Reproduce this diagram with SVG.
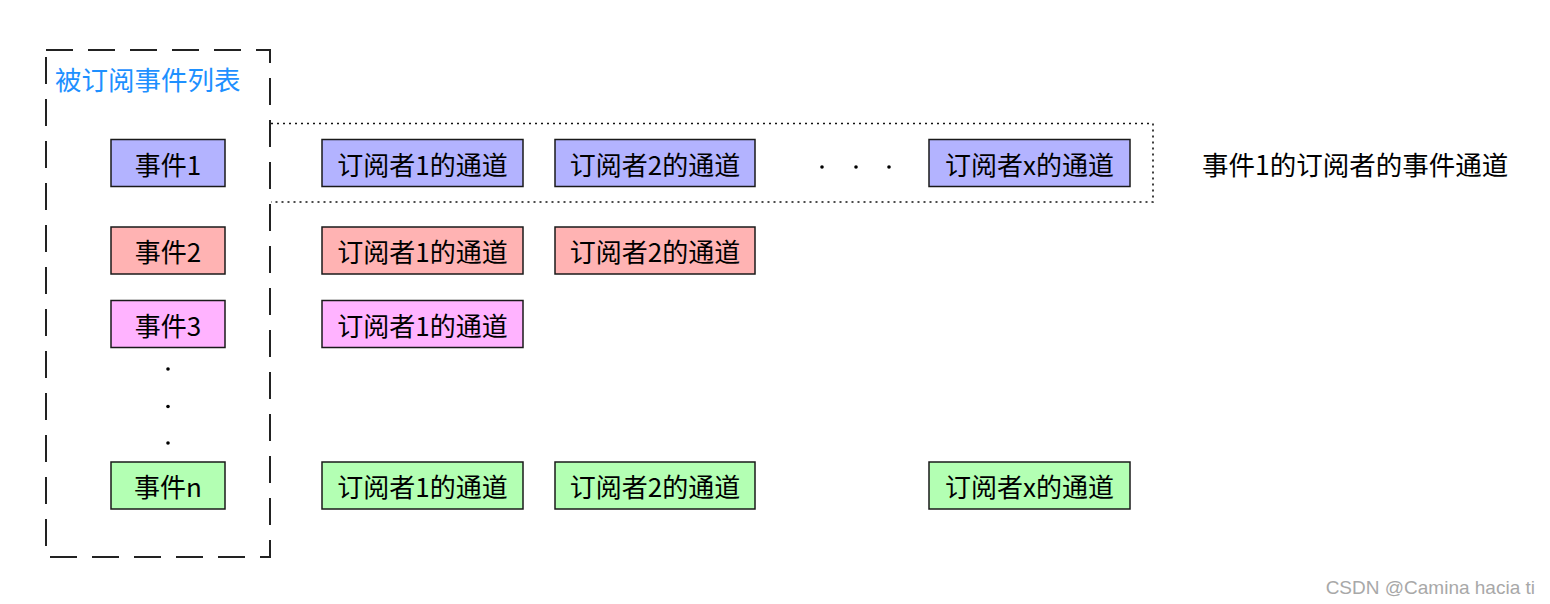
<svg xmlns="http://www.w3.org/2000/svg" width="1550" height="604" viewBox="0 0 1550 604">
<style>
.t{font-family:"Noto Sans CJK SC","Liberation Sans",sans-serif;font-size:26px;fill:#000;text-anchor:middle;dominant-baseline:central}
.n{stroke:#1a1a1a;stroke-width:1.5}
.b{fill:#b3b3ff}.r{fill:#ffb3b3}.p{fill:#ffb3ff}.g{fill:#b3ffb3}
.dot{fill:#000}
</style>
<rect width="1550" height="604" fill="#fff"/>
<g id="event-list">
<rect x="46" y="50" width="224" height="507" fill="none" stroke="#222" stroke-width="2" stroke-dasharray="27 15"/>
<text x="55" y="78" style="font-family:'Noto Sans CJK SC','Liberation Sans',sans-serif;font-size:26.5px;fill:#1e90ff;dominant-baseline:central">被订阅事件列表</text>
</g>
<g id="event1-subscribers">
<path d="M271 123.5 H1153 V202 H271" fill="none" stroke="#111" stroke-width="1.6" stroke-dasharray="2 4"/>
<text x="1202" y="163" class="t" style="text-anchor:start;font-size:26.5px">事件1的订阅者的事件通道</text>
</g>
<g id="e1"><rect class="n b" x="111" y="139.5" width="114" height="47"/><text class="t" x="168" y="163">事件1</text></g>
<g id="e2"><rect class="n r" x="111" y="227" width="114" height="47"/><text class="t" x="168" y="250.5">事件2</text></g>
<g id="e3"><rect class="n p" x="111" y="300.5" width="114" height="47"/><text class="t" x="168" y="324">事件3</text></g>
<g id="en"><rect class="n g" x="111" y="462" width="114" height="47"/><text class="t" x="168" y="485.5">事件n</text></g>
<g id="vdots"><circle class="dot" cx="168" cy="369" r="1.8"/><circle class="dot" cx="168" cy="406.5" r="1.8"/><circle class="dot" cx="168" cy="443" r="1.8"/></g>
<g id="c1-1"><rect class="n b" x="322" y="139.5" width="201" height="47"/><text class="t" x="422.5" y="163">订阅者1的通道</text></g>
<g id="c1-2"><rect class="n b" x="555" y="139.5" width="200" height="47"/><text class="t" x="655" y="163">订阅者2的通道</text></g>
<g id="hdots"><circle class="dot" cx="822" cy="167" r="1.8"/><circle class="dot" cx="856" cy="167" r="1.8"/><circle class="dot" cx="889" cy="167" r="1.8"/></g>
<g id="c1-x"><rect class="n b" x="929" y="139.5" width="201" height="47"/><text class="t" x="1029.5" y="163">订阅者x的通道</text></g>
<g id="c2-1"><rect class="n r" x="322" y="227" width="201" height="47"/><text class="t" x="422.5" y="250.5">订阅者1的通道</text></g>
<g id="c2-2"><rect class="n r" x="555" y="227" width="200" height="47"/><text class="t" x="655" y="250.5">订阅者2的通道</text></g>
<g id="c3-1"><rect class="n p" x="322" y="300.5" width="201" height="47"/><text class="t" x="422.5" y="324">订阅者1的通道</text></g>
<g id="cn-1"><rect class="n g" x="322" y="462" width="201" height="47"/><text class="t" x="422.5" y="485.5">订阅者1的通道</text></g>
<g id="cn-2"><rect class="n g" x="555" y="462" width="200" height="47"/><text class="t" x="655" y="485.5">订阅者2的通道</text></g>
<g id="cn-x"><rect class="n g" x="929" y="462" width="201" height="47"/><text class="t" x="1029.5" y="485.5">订阅者x的通道</text></g>
<g id="connectors"></g>
<text x="1535" y="587" style="font-family:'Liberation Sans',Arial,sans-serif;font-size:19px;fill:#a8a8a8;text-anchor:end;dominant-baseline:central">CSDN @Camina hacia ti</text>
</svg>
